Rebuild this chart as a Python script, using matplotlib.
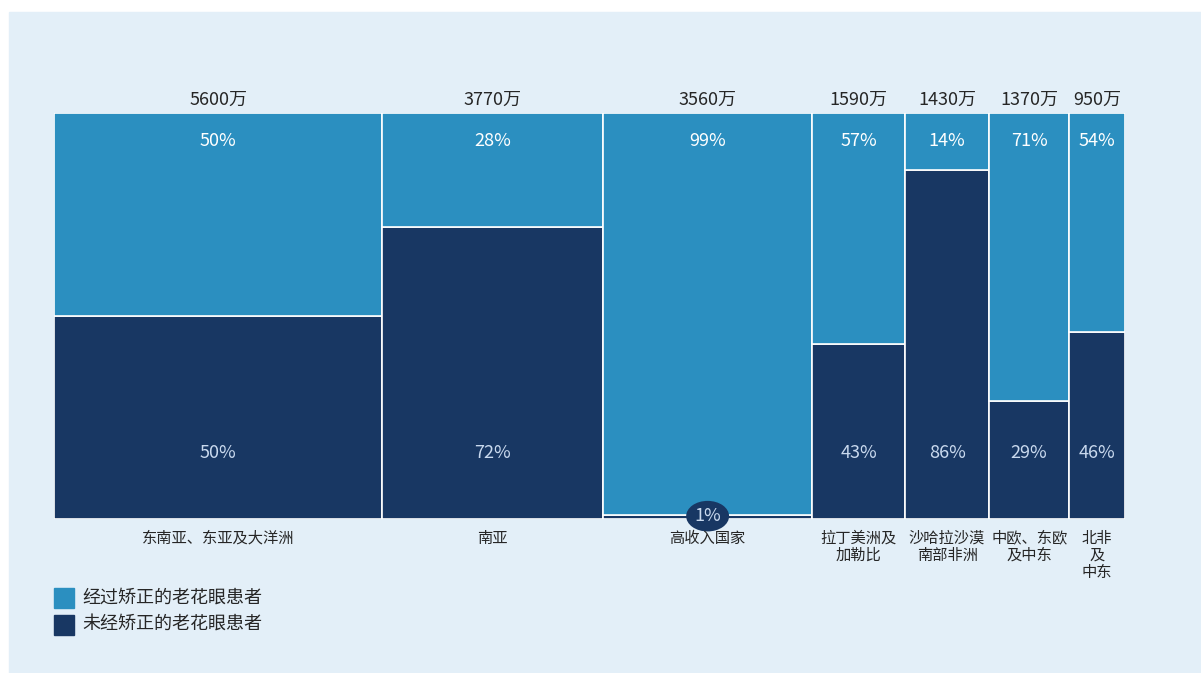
import matplotlib.pyplot as plt
from matplotlib.patches import Rectangle

plt.rcParams["font.family"] = ["Noto Sans CJK SC", "DejaVu Sans"]

# ------------ data -------------#
regions = ["东南亚、东亚及大洋洲", "南亚", "高收入国家", "拉丁美洲及\n加勒比", "沙哈拉沙漠\n南部非洲", "中欧、东欧\n及中东", "北非\n及\n中东"]
population = [5600, 3770, 3560, 1590, 1430, 1370, 950]  # 万
pop_labels = ["5600万", "3770万", "3560万", "1590万", "1430万", "1370万", "950万"]
corrected = [50, 28, 99, 57, 14, 71, 54]
uncorrected = [50, 72, 1, 43, 86, 29, 46]
legend_labels = ["经过矫正的老花眼患者", "未经矫正的老花眼患者"]

LIGHT = "#2B8FC0"
DARK = "#183763"
BG = "#E3EFF8"
INK = "#262626"
W, H = 1201, 673

fig = plt.figure(figsize=(W / 100, H / 100), dpi=100)
fig.patches.append(Rectangle((9 / W, 0), 1, 1 - 12 / H, transform=fig.transFigure, color=BG, zorder=-5))

ax = fig.add_axes([54 / W, (H - 519) / H, 1071 / W, 406 / H])
ax.set_zorder(2)
ax.set_facecolor("none")
total = sum(population)
ax.set_xlim(0, total)
ax.set_ylim(0, 100)
ax.axis("off")

left = 0
for i, pop in enumerate(population):
    ax.bar(left, uncorrected[i], width=pop, align="edge", color=DARK, edgecolor="white", linewidth=1.2)
    ax.bar(left, corrected[i], width=pop, bottom=uncorrected[i], align="edge", color=LIGHT, edgecolor="white", linewidth=1.2)
    cx = left + pop / 2
    ax.text(cx, 103.3, pop_labels[i], ha="center", va="center", fontsize=13, color=INK, clip_on=False)
    ax.text(cx, 93.0, f"{corrected[i]}%", ha="center", va="center", fontsize=13, color="white")
    if uncorrected[i] >= 5:
        ax.text(cx, 16.2, f"{uncorrected[i]}%", ha="center", va="center", fontsize=13, color="#C9D9EE")
    else:
        ax.text(cx, 0.7, f"{uncorrected[i]}%", ha="center", va="center", fontsize=13, color="#C9D9EE",
                bbox=dict(boxstyle="ellipse,pad=0.1", fc=DARK, ec="none"), clip_on=False)
    ax.text(cx, -2.6, regions[i], ha="center", va="top", fontsize=11, color=INK, linespacing=1.03,
            clip_on=False)
    left += pop

# legend
for j, (lab, col) in enumerate(zip(legend_labels, [LIGHT, DARK])):
    y0 = (H - 608 - j * 27) / H
    fig.patches.append(Rectangle((54 / W, y0), 20 / W, 20 / H, transform=fig.transFigure, color=col, zorder=3))
    fig.text(82 / W, y0 + 10 / H, lab, ha="left", va="center", fontsize=13, color=INK)

fig.savefig("out.png", dpi=100)
